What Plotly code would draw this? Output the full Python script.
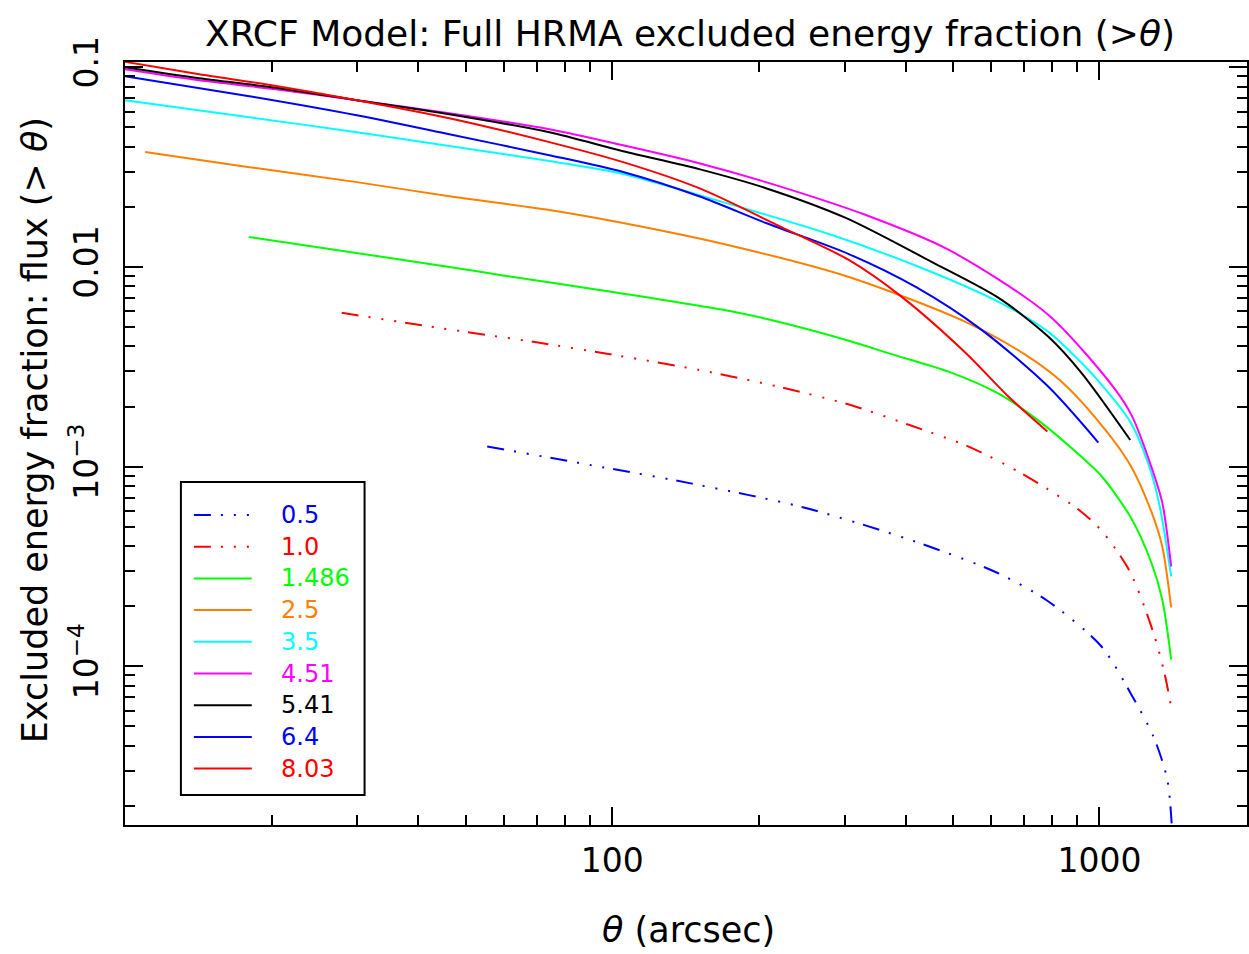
import plotly.graph_objects as go

# Photon energies (keV) shown in the key
energies = ["0.5", "1.0", "1.486", "2.5", "3.5", "4.51", "5.41", "6.4", "8.03"]
colors = ["#0000ff", "#ff0000", "#00ff00", "#ff8000", "#00ffff",
          "#ff00ff", "#000000", "#0000ff", "#ff0000"]
dash_dot3 = "17px,10px,2px,11px,2px,11px,2px,9px"
dashes = [dash_dot3, dash_dot3, "solid", "solid", "solid",
          "solid", "solid", "solid", "solid"]

# Off-axis angle theta (arcsec) and excluded energy fraction flux(>theta)
theta_0p5 = [55.4, 94.1, 145.8, 247.4, 406.1, 615.2, 786, 1009, 1168, 1290, 1378, 1410]
flux_0p5 = [1.26e-3, 1.00e-3, 8.22e-4, 6.24e-4, 4.32e-4, 2.95e-4, 2.11e-4,
            1.26e-4, 7.08e-5, 4.47e-5, 2.72e-5, 1.5e-5]

theta_1p0 = [27.85, 44.2, 70.9, 103.3, 150.8, 219.9, 307.4, 406.1, 539, 682.3,
             786, 905.8, 1009, 1152, 1290, 1359, 1404]
flux_1p0 = [5.89e-3, 4.95e-3, 4.17e-3, 3.59e-3, 3.05e-3, 2.51e-3, 2.04e-3, 1.62e-3,
            1.26e-3, 9.44e-4, 7.67e-4, 6.10e-4, 4.79e-4, 3.02e-4, 1.48e-4, 9.33e-5, 6.24e-5]

theta_1p486 = [17.95, 28.9, 46.3, 60.6, 94.1, 168.9, 206.8, 306, 372.9, 490, 621,
               749.9, 918.6, 1009, 1157, 1278, 1346, 1404]
flux_1p486 = [1.413e-2, 1.189e-2, 1.0e-2, 9.02e-3, 7.67e-3, 6.10e-3, 5.50e-3, 4.27e-3,
              3.67e-3, 2.99e-3, 2.32e-3, 1.70e-3, 1.12e-3, 9.0e-4, 5.62e-4, 3.31e-4,
              2.16e-4, 1.08e-4]

theta_2p5 = [11.0, 18.0, 29.9, 46.3, 74.3, 105.3, 176.2, 306, 531, 705.4, 827.9,
             977, 1157, 1278, 1346, 1404]
flux_2p5 = [3.76e-2, 3.16e-2, 2.66e-2, 2.26e-2, 1.93e-2, 1.66e-2, 1.274e-2, 8.91e-3,
            5.31e-3, 3.63e-3, 2.72e-3, 1.78e-3, 1.02e-3, 5.96e-4, 3.98e-4, 1.97e-4]

theta_3p5 = [10.0, 18.0, 29.9, 46.3, 74.3, 105.3, 150.8, 282.4, 452.5, 621, 786,
             918.6, 990.6, 1157, 1272, 1334, 1404]
flux_3p5 = [6.84e-2, 5.62e-2, 4.73e-2, 4.03e-2, 3.39e-2, 2.92e-2, 2.29e-2, 1.445e-2,
            9.44e-3, 6.68e-3, 4.73e-3, 3.31e-3, 2.72e-3, 1.68e-3, 9.66e-4, 6.1e-4, 2.82e-4]

theta_4p51 = [10.0, 14.2, 20.0, 29.9, 46.3, 74.3, 105.3, 150.8, 206.8, 331.6, 490,
              786, 1078, 1168, 1278, 1346, 1404]
flux_4p51 = [9.77e-2, 8.61e-2, 7.81e-2, 6.84e-2, 5.89e-2, 4.90e-2, 4.07e-2, 3.31e-2,
             2.66e-2, 1.82e-2, 1.22e-2, 5.75e-3, 2.43e-3, 1.78e-3, 1.0e-3, 6.6e-4, 3.16e-4]

theta_5p41 = [10.0, 14.2, 20.0, 29.9, 46.3, 74.3, 105.3, 150.8, 206.8, 301.6, 452.5,
              621, 786, 918.6, 1157]
flux_5p41 = [1.0e-1, 8.81e-2, 7.94e-2, 6.84e-2, 5.82e-2, 4.73e-2, 3.80e-2, 3.09e-2,
             2.48e-2, 1.76e-2, 1.06e-2, 7.0e-3, 4.47e-3, 2.95e-3, 1.36e-3]

theta_6p4 = [10.0, 18.0, 29.9, 46.3, 74.3, 105.3, 150.8, 206.8, 306, 419.8, 573.2, 786, 995]
flux_6p4 = [9.02e-2, 7.16e-2, 5.75e-2, 4.62e-2, 3.63e-2, 2.99e-2, 2.26e-2, 1.66e-2,
            1.16e-2, 7.94e-3, 4.84e-3, 2.51e-3, 1.32e-3]

theta_8p03 = [10.0, 14.2, 20.0, 29.9, 46.3, 74.3, 105.3, 150.8, 223, 306, 393, 531, 651, 782]
flux_8p03 = [1.065e-1, 9.23e-2, 8.13e-2, 6.84e-2, 5.56e-2, 4.22e-2, 3.35e-2, 2.48e-2,
             1.58e-2, 1.084e-2, 7.08e-3, 3.72e-3, 2.24e-3, 1.50e-3]

thetas = [theta_0p5, theta_1p0, theta_1p486, theta_2p5, theta_3p5,
          theta_4p51, theta_5p41, theta_6p4, theta_8p03]
fluxes = [flux_0p5, flux_1p0, flux_1p486, flux_2p5, flux_3p5,
          flux_4p51, flux_5p41, flux_6p4, flux_8p03]

# Axis ticks
x_major = [100, 1000]
x_major_text = ["100", "1000"]
x_minor = [m * d for d in (10, 100, 1000) for m in range(2, 10) if m * d <= 2000]
y_major = [1e-4, 1e-3, 1e-2, 1e-1]
y_major_text = ["10<sup>\u22124</sup>", "10<sup>\u22123</sup>", "0.01", "0.1"]
y_minor = [m * d for d in (1e-5, 1e-4, 1e-3, 1e-2) for m in range(2, 10)]

W, H = 1249, 954
L, R, T, B = 125, 0, 62, 129
FONT = "DejaVu Sans"

fig = go.Figure()
for th, fl, col, dsh, name in zip(thetas, fluxes, colors, dashes, energies):
    fig.add_trace(go.Scatter(x=th, y=fl, mode="lines", name=name, showlegend=False,
                             line=dict(color=col, width=2, dash=dsh,
                                       shape="spline", smoothing=0.8)))

axis_common = dict(
    type="log", showgrid=False, zeroline=False,
    showline=True, linecolor="black", linewidth=2, mirror="allticks",
    ticks="inside", ticklen=18, tickwidth=2, tickcolor="black",
    tickmode="array", tickfont=dict(family=FONT, size=33, color="black"),
)

fig.update_xaxes(**axis_common, range=[1, 3.303], tickvals=x_major, ticktext=x_major_text,
                 ticklabelstandoff=5,
                 minor=dict(tickmode="array", tickvals=x_minor, ticks="inside",
                            ticklen=10, tickwidth=1.5, tickcolor="black", showgrid=False))
fig.update_yaxes(**axis_common, range=[-4.795, -0.9735], tickvals=y_major, ticktext=y_major_text,
                 tickangle=-90, ticklabelstandoff=12,
                 minor=dict(tickmode="array", tickvals=y_minor, ticks="inside",
                            ticklen=10, tickwidth=1.5, tickcolor="black", showgrid=False))

plot_w = W - L - R
plot_h = H - T - B


def px(xp):
    return (xp - L) / plot_w


def py(yp):
    return (H - B - yp) / plot_h


shapes = []
annotations = []

# Key box with a line sample and coloured label per energy
shapes.append(dict(type="rect", xref="paper", yref="paper",
                   x0=px(181), x1=px(365), y0=py(795), y1=py(482),
                   line=dict(color="black", width=2), fillcolor="white", layer="above"))
for i, (name, col, dsh) in enumerate(zip(energies, colors, dashes)):
    yy = 515 + 31.7 * i
    shapes.append(dict(type="line", xref="paper", yref="paper",
                       x0=px(194), x1=px(252), y0=py(yy), y1=py(yy),
                       line=dict(color=col, width=2, dash=dsh), layer="above"))
    annotations.append(dict(xref="paper", yref="paper", x=px(279), y=py(yy),
                            xanchor="left", yanchor="middle", showarrow=False,
                            text=name, font=dict(family=FONT, size=24, color=col)))

# Axis titles
annotations.append(dict(xref="paper", yref="paper", x=px(690), y=py(930),
                        xanchor="center", yanchor="middle", showarrow=False,
                        text="<i>\u03b8</i> (arcsec)",
                        font=dict(family=FONT, size=35, color="black")))
annotations.append(dict(xref="paper", yref="paper", x=px(35), y=py(430),
                        xanchor="center", yanchor="middle", showarrow=False, textangle=-90,
                        text="Excluded energy fraction: flux (> <i>\u03b8</i>)",
                        font=dict(family=FONT, size=35, color="black")))

fig.update_layout(
    width=W, height=H,
    margin=dict(l=L, r=R, t=T, b=B),
    paper_bgcolor="white", plot_bgcolor="white",
    showlegend=False,
    title=dict(text="XRCF Model: Full HRMA excluded energy fraction (><i>\u03b8</i>)",
               x=px(691), xref="paper", xanchor="center",
               y=1 - 33 / H, yref="container", yanchor="middle",
               font=dict(family=FONT, size=36, color="black")),
    shapes=shapes,
    annotations=annotations,
)

fig.write_html("out.html")
